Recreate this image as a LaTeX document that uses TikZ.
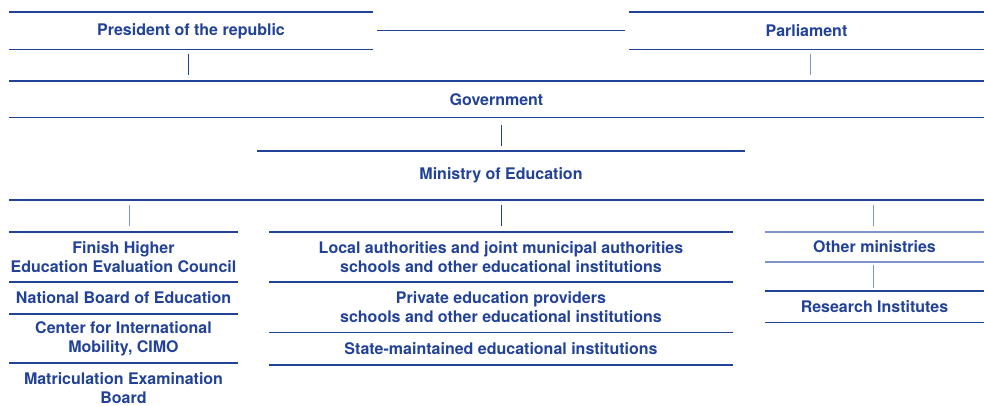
\documentclass[tikz,border=0pt]{standalone}
\usepackage{fontspec}
\setmainfont{TeX Gyre Heros}
\usetikzlibrary{positioning}
\definecolor{ink}{RGB}{33,66,150}
\definecolor{pale}{RGB}{128,148,204}
\tikzset{unit/.style={inner sep=0pt, align=center, text=ink, font=\fontsize{16}{19}\selectfont\bfseries},
  rule/.style={draw=ink, line width=1.6pt},
  thin/.style={draw=ink, line width=1pt}}

\begin{document}
\begin{tikzpicture}[x=1pt,y=-1pt]
\useasboundingbox (0,0) rectangle (984,406);
\node[unit, minimum width=364pt, minimum height=37pt] (pres) at (191,31) {President of the republic};
\node[unit, minimum width=355pt, minimum height=37pt] (parl) at (806.5,31) {Parliament};
\node[unit, minimum width=975pt, minimum height=36pt] (gov) at (496.5,99.5) {Government};
\node[unit, minimum width=488pt, minimum height=48pt] (mined) at (501,175.5) {Ministry of Education};
\node[unit, minimum width=229pt, minimum height=49.5pt] (fhe) at (123.5,257) {Finish Higher\\Education Evaluation Council};
\node[unit, minimum width=229pt, minimum height=31.5pt, below=0pt of fhe] (nbe) {National Board of Education};
\node[unit, minimum width=229pt, minimum height=49pt, below=0pt of nbe] (cimo) {Center for International\\Mobility, CIMO};
\node[unit, minimum width=229pt, minimum height=49pt, below=0pt of cimo] (meb) {Matriculation Examination\\Board};
\node[unit, minimum width=464pt, minimum height=50pt] (local) at (501,257) {Local authorities and joint municipal authorities\\schools and other educational institutions};
\node[unit, minimum width=464pt, minimum height=50pt, below=0pt of local] (priv) {Private education providers\\schools and other educational institutions};
\node[unit, minimum width=464pt, minimum height=32pt, below=0pt of priv] (state) {State-maintained educational institutions};
\node[unit, minimum width=219pt, minimum height=30pt] (othmin) at (874.5,247) {Other ministries};
\node[unit, minimum width=219pt, minimum height=31pt, below=29pt of othmin] (resinst) {Research Institutes};
\foreach \n in {pres,parl,gov,mined,fhe,nbe,cimo,meb,local,priv,state,resinst}
  \draw[rule] (\n.north west) -- (\n.north east);
\foreach \n in {pres,parl,gov,state,resinst}
  \draw[rule] (\n.south west) -- (\n.south east);
\draw[rule] (gov.west |- mined.south) -- (gov.east |- mined.south);
\draw[rule, draw=pale] (othmin.north west) -- (othmin.north east) (othmin.south west) -- (othmin.south east);
\draw[thin, shorten <=4pt, shorten >=4pt] (pres) -- (parl);
\draw[thin, shorten <=4pt, shorten >=6pt] ([xshift=-3pt]pres.south) -- ([xshift=-3pt]pres.south |- gov.north);
\draw[thin, draw=pale, shorten <=4pt, shorten >=6pt] ([xshift=3.5pt]parl.south) -- ([xshift=3.5pt]parl.south |- gov.north);
\draw[thin, shorten <=7pt, shorten >=5pt] (gov.south -| mined.north) -- (mined.north);
\draw[thin, draw=pale, shorten <=5pt, shorten >=6pt] ([xshift=5.5pt]fhe.north |- mined.south) -- ([xshift=5.5pt]fhe.north);
\draw[thin, shorten <=5pt, shorten >=6pt] (local.north |- mined.south) -- (local.north);
\draw[thin, draw=pale, shorten <=5pt, shorten >=6pt] ([xshift=-1.5pt]othmin.north |- mined.south) -- ([xshift=-1.5pt]othmin.north);
\draw[thin, draw=pale, shorten <=3pt, shorten >=3pt] ([xshift=-1.5pt]othmin.south) -- ([xshift=-1.5pt]resinst.north);
\end{tikzpicture}
\end{document}
